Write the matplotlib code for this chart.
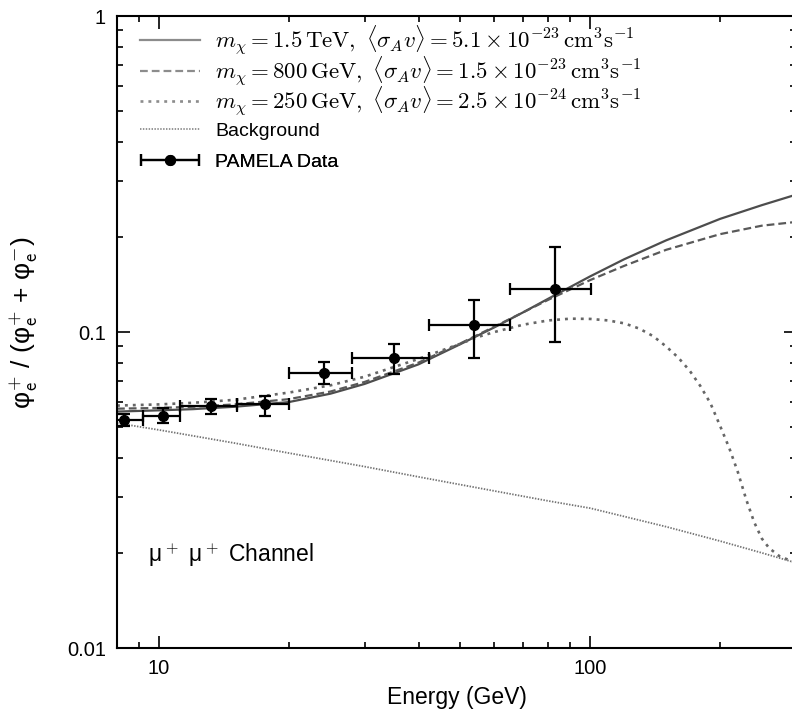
import numpy as np
import matplotlib

matplotlib.use("Agg")
import matplotlib.pyplot as plt
from matplotlib.container import ErrorbarContainer
from matplotlib.legend_handler import HandlerErrorbar

plt.rcParams["font.family"] = ["Liberation Sans", "DejaVu Sans"]
plt.rcParams["mathtext.fontset"] = "cm"

# PAMELA positron fraction
pam_e = [8.3, 10.2, 13.2, 17.6, 24.1, 35.1, 53.8, 82.9]
pam_lo = [7.5, 9.2, 11.2, 15.2, 20.0, 28.1, 42.2, 65.3]
pam_hi = [9.2, 11.2, 15.2, 20.0, 28.1, 42.2, 65.3, 100.5]
pam_frac = [0.0527, 0.0543, 0.0585, 0.0593, 0.0743, 0.0828, 0.1052, 0.1368]
pam_err_lo = [0.0022, 0.0027, 0.0034, 0.0050, 0.0057, 0.0090, 0.0224, 0.0438]
pam_err_hi = [0.0024, 0.0032, 0.0030, 0.0035, 0.0061, 0.0088, 0.0208, 0.0486]

# model curves
e_15tev = [8, 10, 12, 15, 20, 25, 30, 40, 50, 60, 70, 80, 100, 120, 150, 200, 250, 300]
f_15tev = [0.0560, 0.0565, 0.0570, 0.0580, 0.0600, 0.0638, 0.0685, 0.0790, 0.0915,
           0.1035, 0.1155, 0.1275, 0.1500, 0.1700, 0.1950, 0.2280, 0.2520, 0.2720]

e_800 = [8, 10, 12, 15, 20, 25, 30, 40, 50, 60, 70, 80, 100, 120, 150, 200, 250, 300]
f_800 = [0.0572, 0.0575, 0.0580, 0.0590, 0.0613, 0.0648, 0.0695, 0.0800, 0.0920,
         0.1040, 0.1155, 0.1265, 0.1460, 0.1620, 0.1820, 0.2040, 0.2170, 0.2230]

e_250 = [8, 10, 12, 15, 20, 25, 30, 40, 50, 55, 60, 70, 80, 90, 100, 110, 120, 130,
         140, 150, 160, 170, 180, 190, 200, 210, 220, 230, 240, 250, 260, 275, 300]
f_250 = [0.0585, 0.0590, 0.0597, 0.0610, 0.0643, 0.0678, 0.0722, 0.0822, 0.0918,
         0.0965, 0.1000, 0.1055, 0.1088, 0.1102, 0.1100, 0.1088, 0.1065, 0.1025,
         0.0970, 0.0900, 0.0830, 0.0755, 0.0675, 0.0595, 0.0505, 0.0430, 0.0360,
         0.0295, 0.0250, 0.0222, 0.0207, 0.0195, 0.0186]

e_bg = [8, 10, 15, 20, 30, 40, 60, 80, 100, 150, 200, 250, 300]
f_bg = [0.0515, 0.0490, 0.0445, 0.0414, 0.0375, 0.0348, 0.0314, 0.0292, 0.0277,
        0.0242, 0.0218, 0.0200, 0.0186]

labels = [
    r"$m_\chi = 1.5\,\mathrm{TeV},\ \langle\sigma_A v\rangle = 5.1\times10^{-23}\,\mathrm{cm^3s^{-1}}$",
    r"$m_\chi = 800\,\mathrm{GeV},\ \langle\sigma_A v\rangle = 1.5\times10^{-23}\,\mathrm{cm^3s^{-1}}$",
    r"$m_\chi = 250\,\mathrm{GeV},\ \langle\sigma_A v\rangle = 2.5\times10^{-24}\,\mathrm{cm^3s^{-1}}$",
    "Background",
    "PAMELA Data",
]

W, H = 792, 714
X0, X1, Y0, Y1 = 117, 796, 16, 648

fig = plt.figure(figsize=(W / 100, H / 100), dpi=100)
ax = fig.add_axes([X0 / W, 1 - Y1 / H, (X1 - X0) / W, (Y1 - Y0) / H])

l1, = ax.plot(e_15tev, f_15tev, color="0.3", lw=1.6, ls="-")
l2, = ax.plot(e_800, f_800, color="0.35", lw=1.6, dashes=(3.5, 1.8))
l3, = ax.plot(e_250, f_250, color="0.4", lw=1.9, dashes=(1.1, 1.9))
l4, = ax.plot(e_bg, f_bg, color="0.45", lw=1.3, dashes=(0.8, 0.8))

xerr = [np.subtract(pam_e, pam_lo), np.subtract(pam_hi, pam_e)]
yerr = [pam_err_lo, pam_err_hi]
ax.errorbar(pam_e, pam_frac, xerr=xerr, yerr=yerr, fmt="o", color="black",
            ms=7, elinewidth=1.6, capsize=4, capthick=1.6, zorder=5)

# legend handle for the data: horizontal bar only
pam_handle = ax.errorbar([np.nan], [np.nan], xerr=[[np.nan], [np.nan]], fmt="o",
                         color="black", ms=7, elinewidth=1.6, capsize=4, capthick=1.6)

# one legend per row so the row positions follow the reference
handles = [l1, l2, l3, l4, pam_handle]
row_y = [40, 71, 101, 131, 162]
row_size = [16.5, 16.5, 16.5, 14, 14]
for handle, label, yc, fs in zip(handles, labels, row_y, row_size):
    leg = ax.legend([handle], [label], loc="center left",
                    bbox_to_anchor=((140 - X0) / (X1 - X0), 1 - (yc - Y0) / (Y1 - Y0)),
                    frameon=False, fontsize=fs, handlelength=43.2 / fs,
                    handletextpad=10.8 / fs, borderpad=0, borderaxespad=0,
                    handler_map={ErrorbarContainer: HandlerErrorbar(xerr_size=21.0 / fs)})
    if handle is not pam_handle:
        for h in leg.get_lines():
            h.set_color("0.55")
    ax.add_artist(leg)

ax.text((148 - X0) / (X1 - X0), 1 - (562 - Y0) / (Y1 - Y0), r"μ$^+$ μ$^+$ Channel",
        fontsize=16.5, transform=ax.transAxes, va="baseline")

ax.set_xscale("log")
ax.set_yscale("log")
ax.set_xlim(8, 300)
ax.set_ylim(0.01, 1)
ax.set_xticks([10, 100])
ax.set_xticklabels(["10", "100"])
ax.set_yticks([0.01, 0.1, 1])
ax.set_yticklabels(["0.01", "0.1", "1"])
ax.tick_params(which="both", direction="in", top=True, right=True, labelsize=14.5, width=1.2)
ax.tick_params(which="major", length=9, pad=8)
ax.tick_params(which="minor", length=4.5)
for s in ax.spines.values():
    s.set_linewidth(1.5)

ax.set_xlabel("Energy (GeV)", fontsize=16.5, labelpad=6)
ax.set_ylabel(r"φ$_{\mathsf{e}}^{\mathsf{+}}$ / (φ$_{\mathsf{e}}^{\mathsf{+}}$ + φ$_{\mathsf{e}}^{\mathsf{-}}$)",
              fontsize=19)
ax.yaxis.set_label_coords((40 - X0) / (X1 - X0), 1 - (322 - Y0) / (Y1 - Y0))

fig.savefig("out.png", dpi=100)
